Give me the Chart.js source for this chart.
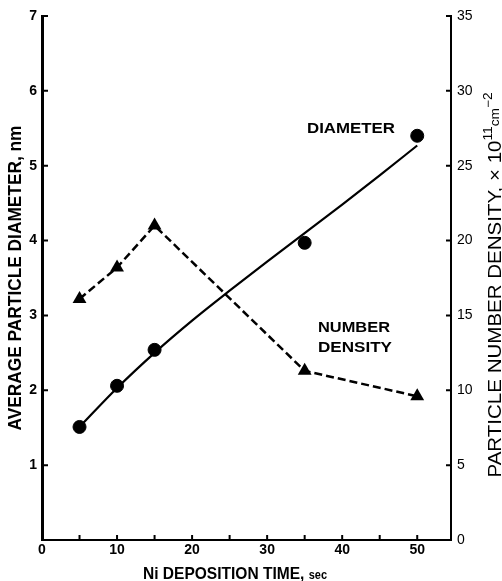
<!DOCTYPE html>
<html><head><meta charset="utf-8">
<script src="https://cdn.jsdelivr.net/npm/chart.js@4/dist/chart.umd.min.js"></script>
<style>html,body{margin:0;padding:0;background:#fff}#wrap{width:502px;height:581px}</style>
</head><body><div id="wrap"><canvas id="c" width="502" height="581"></canvas></div>
<script>
// ---- data ----
const depositionTime = [5, 10, 15, 35, 50];
const diameterNm = [1.51, 2.06, 2.54, 3.97, 5.40];
const numberDensity = [16.1, 18.2, 21.0, 11.3, 9.6];
const fitTime = [5, 10, 15, 20, 25, 30, 35, 40, 45, 50];
const fitDiameter = [1.51, 2.03, 2.50, 2.93, 3.33, 3.72, 4.10, 4.48, 4.87, 5.27];
const xTickValues = [0, 5, 10, 15, 20, 25, 30, 35, 40, 45, 50];
const xTickLabels = ['0', '', '10', '', '20', '', '30', '', '40', '', '50'];
const leftTickValues = [0, 1, 2, 3, 4, 5, 6, 7];
const leftTickLabels = ['', '1', '2', '3', '4', '5', '6', '7'];
const rightTickValues = [0, 5, 10, 15, 20, 25, 30, 35];
const rightTickLabels = ['0', '5', '10', '15', '20', '25', '30', '35'];

const FONT = '"Liberation Sans", Arial, Helvetica, sans-serif';

function drawSegments(ctx, segs, cx, cy, angle, targetW) {
  ctx.save();
  let total = 0;
  segs.forEach(s => { ctx.font = s.font; s.w = ctx.measureText(s.t).width; total += s.w; });
  ctx.translate(cx, cy);
  ctx.rotate(angle);
  ctx.scale(targetW / total, 1);
  ctx.textAlign = 'left';
  ctx.textBaseline = 'alphabetic';
  ctx.fillStyle = '#000';
  let x = -total / 2;
  segs.forEach(s => { ctx.font = s.font; ctx.fillText(s.t, x, s.dy || 0); x += s.w; });
  ctx.restore();
}

const decor = {
  id: 'decor',
  afterDraw(chart) {
    const ctx = chart.ctx, a = chart.chartArea;
    const sx = chart.scales.x, sy = chart.scales.y, sy2 = chart.scales.y2;
    ctx.save();
    ctx.strokeStyle = '#000';
    ctx.lineWidth = 2;
    ctx.beginPath();
    sy.ticks.forEach(t => { const p = sy.getPixelForValue(t.value); if (t.value > 0) { ctx.moveTo(a.left, p); ctx.lineTo(a.left + 6, p); } });
    sy2.ticks.forEach(t => { const p = sy2.getPixelForValue(t.value); if (t.value > 0) { ctx.moveTo(a.right, p); ctx.lineTo(a.right - 5, p); } });
    sx.ticks.forEach(t => { const p = sx.getPixelForValue(t.value); if (t.value > 0) { ctx.moveTo(p, a.bottom); ctx.lineTo(p, a.bottom - 5); } });
    ctx.stroke();
    ctx.restore();

    // axis titles
    drawSegments(ctx, [{ t: 'AVERAGE PARTICLE DIAMETER, nm', font: 'bold 18px ' + FONT }],
      21, 278, -Math.PI / 2, 305);
    drawSegments(ctx, [
      { t: 'Ni DEPOSITION TIME, ', font: 'bold 17px ' + FONT },
      { t: 'sec', font: 'bold 12px ' + FONT }
    ], 235, 579, 0, 184);
    drawSegments(ctx, [
      { t: 'PARTICLE NUMBER DENSITY, \u00D7 10', font: '18px ' + FONT },
      { t: '11', font: '12px ' + FONT, dy: -9 },
      { t: 'cm', font: '12px ' + FONT, dy: -2 },
      { t: '\u22122', font: '12px ' + FONT, dy: -9 }
    ], 501, 285, -Math.PI / 2, 385);

    // in-plot labels
    drawSegments(ctx, [{ t: 'DIAMETER', font: 'bold 15px ' + FONT }], 351, 133, 0, 88);
    drawSegments(ctx, [{ t: 'NUMBER', font: 'bold 15px ' + FONT }], 354, 332, 0, 72);
    drawSegments(ctx, [{ t: 'DENSITY', font: 'bold 15px ' + FONT }], 355, 352, 0, 74);
  }
};

new Chart(document.getElementById('c'), {
  type: 'scatter',
  data: {
    datasets: [
      {
        label: 'Diameter fit',
        type: 'line',
        data: fitTime.map((t, i) => ({ x: t, y: fitDiameter[i] })),
        yAxisID: 'y',
        borderColor: '#000',
        borderWidth: 2.2,
        pointRadius: 0,
        cubicInterpolationMode: 'monotone',
        fill: false
      },
      {
        label: 'Diameter',
        data: depositionTime.map((t, i) => ({ x: t, y: diameterNm[i] })),
        yAxisID: 'y',
        backgroundColor: '#000',
        borderColor: '#000',
        pointStyle: 'circle',
        pointRadius: 6.5,
        showLine: false
      },
      {
        label: 'Number density',
        type: 'line',
        data: depositionTime.map((t, i) => ({ x: t, y: numberDensity[i] })),
        yAxisID: 'y2',
        borderColor: '#000',
        backgroundColor: '#000',
        borderWidth: 2.5,
        borderDash: [8, 4],
        pointStyle: 'triangle',
        pointRadius: 8,
        pointBorderWidth: 0,
        tension: 0,
        fill: false
      }
    ]
  },
  options: {
    responsive: false,
    animation: false,
    devicePixelRatio: 1,
    layout: { padding: { top: 16, left: 0, right: 0, bottom: 0 } },
    plugins: { legend: { display: false }, tooltip: { enabled: false } },
    scales: {
      x: {
        type: 'linear', min: 0, max: 54.5,
        afterBuildTicks: s => { s.ticks = xTickValues.map(v => ({ value: v })); },
        afterFit: s => { s.height = 41; },
        grid: { display: false, drawTicks: false, tickLength: 0 },
        border: { display: true, color: '#000', width: 2 },
        ticks: {
          color: '#000', padding: 2, maxRotation: 0, autoSkip: false,
          font: { family: FONT, size: 14, weight: 'bold' },
          callback: (v) => { const i = xTickValues.indexOf(v); return i >= 0 ? xTickLabels[i] : ''; }
        }
      },
      y: {
        type: 'linear', position: 'left', min: 0, max: 7,
        afterBuildTicks: s => { s.ticks = leftTickValues.map(v => ({ value: v })); },
        afterFit: s => { s.width = 42; },
        grid: { display: false, drawTicks: false, tickLength: 0 },
        border: { display: true, color: '#000', width: 3 },
        ticks: {
          color: '#000', padding: 5, autoSkip: false,
          font: { family: FONT, size: 14, weight: 'bold' },
          callback: (v) => { const i = leftTickValues.indexOf(v); return i >= 0 ? leftTickLabels[i] : ''; }
        }
      },
      y2: {
        type: 'linear', position: 'right', min: 0, max: 35,
        afterBuildTicks: s => { s.ticks = rightTickValues.map(v => ({ value: v })); },
        afterFit: s => { s.width = 51; },
        grid: { display: false, drawTicks: false, tickLength: 0 },
        border: { display: true, color: '#000', width: 2 },
        ticks: {
          color: '#000', padding: 6, autoSkip: false,
          font: { family: FONT, size: 14 },
          callback: (v) => { const i = rightTickValues.indexOf(v); return i >= 0 ? rightTickLabels[i] : ''; }
        }
      }
    }
  },
  plugins: [decor]
});
</script>
</body></html>
